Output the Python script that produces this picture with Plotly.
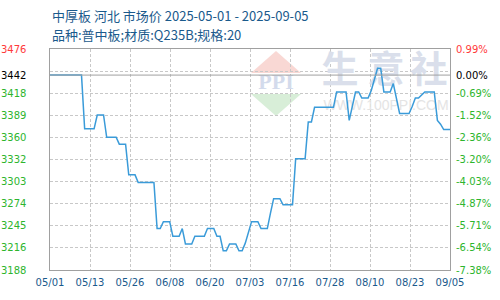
import plotly.graph_objects as go
import pandas as pd

TITLE = "中厚板 河北 市场价 2025-05-01 - 2025-09-05"
SUBTITLE = "品种:普中板;材质:Q235B;规格:20"
START_DATE = "2025-05-01"
END_DATE = "2025-09-05"

# daily market price (yuan/ton), 2025-05-01 .. 2025-09-05
prices = [
    3442, 3442, 3442, 3442, 3442, 3442, 3442, 3442, 3442, 3442, 3442,
    3372, 3372, 3372, 3372,
    3390, 3390, 3390,
    3361, 3361, 3361, 3361,
    3352, 3352, 3352,
    3312, 3312, 3312,
    3302, 3302, 3302, 3302, 3302, 3302,
    3242, 3242,
    3251, 3251, 3251,
    3232, 3232, 3232,
    3242,
    3222, 3222, 3222,
    3232, 3232, 3232, 3232,
    3242, 3242, 3242,
    3232, 3232,
    3213, 3213,
    3222, 3222, 3222,
    3213, 3213,
    3223, 3238,
    3251, 3251, 3251,
    3242, 3242, 3242,
    3262,
    3281, 3281, 3281,
    3273, 3273, 3273, 3273,
    3333, 3333, 3333, 3333,
    3381, 3381,
    3400, 3400, 3400, 3400, 3400, 3400, 3400,
    3420, 3420, 3420, 3420,
    3383, 3403,
    3420, 3420,
    3412, 3412, 3412,
    3422, 3436,
    3451, 3451,
    3420, 3420, 3420,
    3431, 3412,
    3392, 3392, 3392, 3392,
    3401,
    3412, 3412,
    3416,
    3420, 3420, 3420, 3420,
    3383, 3378,
    3371, 3371, 3371,
]

Y_MIN = 3188
Y_MAX = 3476
N_DIV = 10
X_TICK_LABELS = ["05/01", "05/13", "05/26", "06/08", "06/20", "07/03",
                 "07/16", "07/28", "08/10", "08/23", "09/05"]

WATERMARK_CN = ["生", "意", "社"]
WATERMARK_URL = "WWW.100PPI.COM"
LOGO_TEXT = "PPI"

# ---- geometry (pixels) ----
W, H = 500, 300
L, R, T, B = 50, 50, 49, 30
PW, PH = W - L - R, H - T - B

dates = pd.date_range(START_DATE, END_DATE, freq="D")
t0, t1 = dates[0], dates[-1]
base = prices[0]

def px_x(x):
    return (x - L) / PW

def px_y(y):
    return (H - B - y) / PH

def x_at(x):
    return (t0 + (t1 - t0) * ((x - L) / PW)).strftime("%Y-%m-%d %H:%M:%S")

def y_at(y):
    return Y_MIN + (Y_MAX - Y_MIN) * ((H - B - y) / PH)

step = (Y_MAX - Y_MIN) / N_DIV
grid_vals = [Y_MIN + i * step for i in range(N_DIV + 1)]
x_tickvals = [(t0 + (t1 - t0) * (i / (len(X_TICK_LABELS) - 1))).strftime("%Y-%m-%d %H:%M:%S")
              for i in range(len(X_TICK_LABELS))]

RED = "#ff3a3a"
GREEN = "#2db52d"
BLUE_TXT = "#1a5a8c"
LINE = "#3a9bd9"
GRID = "#c8c8c8"
FRAME = "#a0a0a0"

fig = go.Figure()

# watermark (behind the price line)
fig.add_trace(go.Scatter(
    x=[x_at(340), x_at(386), x_at(429)], y=[y_at(74)] * 3,
    mode="text", text=WATERMARK_CN,
    textfont=dict(family="Noto Sans CJK SC", size=37, color="#dadfeb", weight="bold"),
    hoverinfo="skip", showlegend=False))
fig.add_trace(go.Scatter(
    x=[x_at(386)], y=[y_at(106)], mode="text", text=[WATERMARK_URL],
    textfont=dict(family="Liberation Sans", size=14, color="#e4e4e4"),
    hoverinfo="skip", showlegend=False))
fig.add_trace(go.Scatter(
    x=[x_at(276)], y=[y_at(83)], mode="text", text=[LOGO_TEXT],
    textfont=dict(family="Liberation Serif", size=22, color="#d3dbec", weight="bold"),
    hoverinfo="skip", showlegend=False))

fig.add_trace(go.Scatter(
    x=dates, y=prices, mode="lines",
    line=dict(color=LINE, width=1.5),
    hoverinfo="x+y", showlegend=False))

shapes = [
    # logo triangles
    dict(type="path", xref="paper", yref="paper", layer="below",
         path=f"M {px_x(276)} {px_y(51)} L {px_x(251)} {px_y(73)} L {px_x(301)} {px_y(73)} Z",
         fillcolor="#f9d8d4", line=dict(width=0)),
    dict(type="path", xref="paper", yref="paper", layer="below",
         path=f"M {px_x(251)} {px_y(94)} L {px_x(301)} {px_y(94)} L {px_x(276)} {px_y(116)} Z",
         fillcolor="#d8eed8", line=dict(width=0)),
    # base line
    dict(type="line", xref="paper", yref="y", x0=0, x1=1, y0=base, y1=base,
         line=dict(color=FRAME, width=1)),
]

annotations = [
    dict(text=TITLE, xref="paper", yref="paper", x=px_x(50), y=px_y(15),
         xanchor="left", yanchor="middle", showarrow=False,
         font=dict(family="Noto Sans CJK SC", size=13, color=BLUE_TXT)),
    dict(text=SUBTITLE, xref="paper", yref="paper", x=px_x(50), y=px_y(34),
         xanchor="left", yanchor="middle", showarrow=False,
         font=dict(family="Noto Sans CJK SC", size=13, color=BLUE_TXT)),
]

label_vals = [v for v in grid_vals if abs(v - base) > step / 2 or v == base]
if base not in label_vals:
    label_vals.append(base)
for v in label_vals:
    col = RED if v > base else ("#000000" if v == base else GREEN)
    annotations.append(dict(text=str(int(v)), xref="paper", yref="y", x=px_x(28), y=v,
                            xanchor="right", yanchor="middle", showarrow=False,
                            font=dict(family="DejaVu Sans", size=10, color=col)))
    pct = (v / base - 1) * 100
    annotations.append(dict(text=f"{pct:.2f}%", xref="paper", yref="y", x=px_x(454), y=v,
                            xanchor="left", yanchor="middle", showarrow=False,
                            font=dict(family="DejaVu Sans", size=10, color=col)))

fig.update_layout(
    width=W, height=H,
    margin=dict(l=L, r=R, t=T, b=B),
    paper_bgcolor="white", plot_bgcolor="white",
    shapes=shapes, annotations=annotations,
    xaxis=dict(type="date", range=[t0, t1], tickvals=x_tickvals, ticktext=X_TICK_LABELS,
               showgrid=True, gridcolor=GRID, griddash="3px,2px", gridwidth=1,
               showline=True, linecolor=FRAME, linewidth=1, mirror=True,
               ticks="", zeroline=False, ticklabelstandoff=3,
               tickfont=dict(family="DejaVu Sans", size=10, color=BLUE_TXT)),
    yaxis=dict(range=[Y_MIN, Y_MAX], tickvals=grid_vals, showticklabels=False,
               showgrid=True, gridcolor=GRID, griddash="3px,2px", gridwidth=1,
               showline=True, linecolor=FRAME, linewidth=1, mirror=True,
               ticks="", zeroline=False),
)

fig.write_html("out.html")
